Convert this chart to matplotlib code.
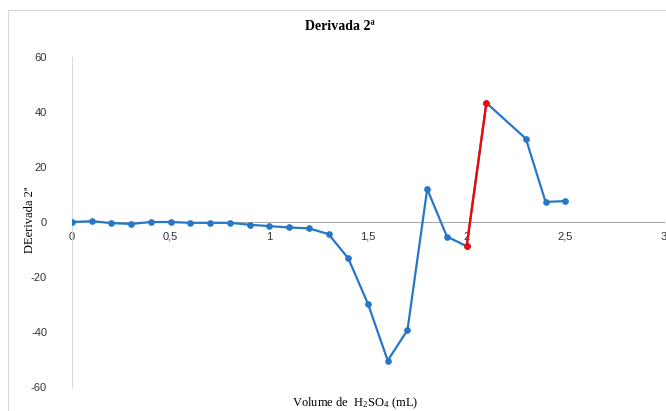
import matplotlib.pyplot as plt
from matplotlib.ticker import FuncFormatter
from matplotlib.patches import Rectangle

# volume (mL) and 2nd derivative values
volume = [0, 0.1, 0.2, 0.3, 0.4, 0.5, 0.6, 0.7, 0.8, 0.9, 1.0, 1.1, 1.2,
          1.3, 1.4, 1.5, 1.6, 1.7, 1.8, 1.9, 2.0, 2.1, 2.3, 2.4, 2.5]
deriv2 = [0, 0.3, -0.4, -0.7, 0, 0, -0.3, -0.3, -0.3, -1.0, -1.5, -2.0, -2.3,
          -4.4, -13.2, -29.8, -50.4, -39.3, 12.0, -5.3, -8.8, 43.3, 30.3, 7.3, 7.6]
# highlighted segment (equivalence point)
red_x = [2.0, 2.1]
red_y = [-8.8, 43.3]

x_ticks = [0, 0.5, 1, 1.5, 2, 2.5, 3]
y_ticks = [-60, -40, -20, 0, 20, 40, 60]

blue = "#2677C8"
serif = "Liberation Serif"
sans = "Liberation Sans"

plt.rcParams["mathtext.fontset"] = "custom"
plt.rcParams["mathtext.rm"] = serif
plt.rcParams["mathtext.it"] = serif + ":italic"

fig = plt.figure(figsize=(6.66, 4.11), dpi=100)
ax = fig.add_axes([72 / 666, 1 - 387 / 411, (664 - 72) / 666, (387 - 57) / 411])

ax.plot(volume, deriv2, color=blue, lw=1.6, marker="o", ms=3.8, zorder=3)
ax.plot(red_x, red_y, color="red", lw=1.6, marker="o", ms=3.8, zorder=4)

ax.set_xlim(0, 3)
ax.set_ylim(-60, 60)
ax.set_xticks(x_ticks)
ax.set_yticks(y_ticks)
comma = FuncFormatter(lambda v, p: ("%g" % v).replace(".", ","))
ax.xaxis.set_major_formatter(comma)
ax.yaxis.set_major_formatter(comma)

for s in ["top", "right"]:
    ax.spines[s].set_visible(False)
ax.spines["bottom"].set_position(("data", 0))
ax.spines["bottom"].set_color("#A6A6A6")
ax.spines["left"].set_color("#D9D9D9")
ax.tick_params(axis="both", length=0, labelsize=8, colors="#333333")
ax.tick_params(axis="x", pad=7)
ax.tick_params(axis="y", pad=18)
for lbl in ax.get_xticklabels() + ax.get_yticklabels():
    lbl.set_family(sans)

fig.text(340 / 666, 1 - 27 / 411, "Derivada 2ª", ha="center", va="center",
         fontsize=10, fontweight="bold", family=serif)
fig.text(30 / 666, 1 - 220 / 411, "DEerivada 2ª", rotation=90, ha="center",
         va="center", fontsize=9, family=serif)
fig.text(355 / 666, 1 - 403 / 411, r"Volume de  H$_\mathrm{2}$SO$_\mathrm{4}$ (mL)",
         ha="center", va="center", fontsize=9, family=serif)

# chart area border
fig.patches.append(Rectangle((8 / 666, -0.01), 1.0, 1 - 10 / 411 + 0.01,
                             transform=fig.transFigure, fill=False,
                             edgecolor="#D9D9D9", lw=0.8))

fig.savefig("out.png", dpi=100)
